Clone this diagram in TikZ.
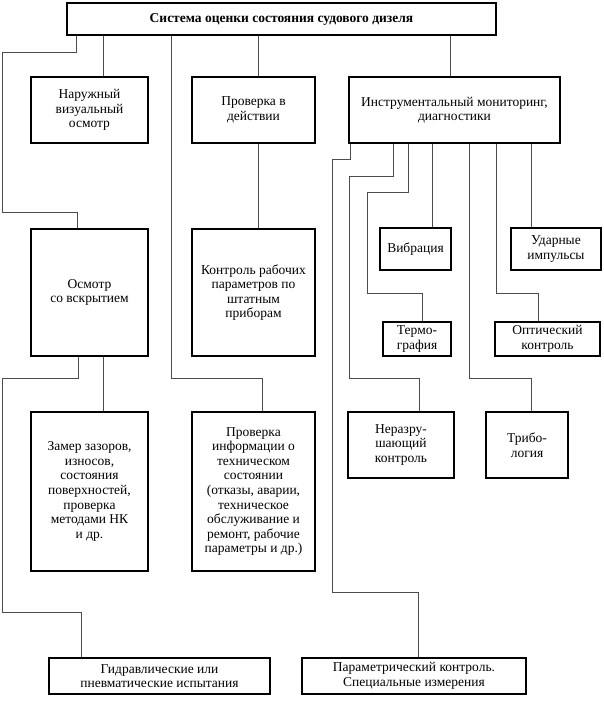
\documentclass[tikz,border=0pt]{standalone}
\usepackage{fontspec}
\setmainfont{Liberation Serif}
\begin{document}
\begin{tikzpicture}[x=1pt,y=-1pt,
  blk/.style={draw,line width=1.5pt,align=center,inner sep=1pt,font=\fontsize{13.5}{14.6}\selectfont},
  link/.style={draw=black!70,line width=0.9pt}]
\useasboundingbox (0,0) rectangle (603,710);
\def\bx#1#2#3#4#5#6{\node[blk,minimum width={#4-#2},minimum height={#5-#3}] (#1) at ({(#2+#4)/2},{(#3+#5)/2}) {#6};}
% boxes
\bx{top}{67}{3}{496}{35}{\bfseries Система оценки состояния судового дизеля}
\bx{nar}{31}{77}{148}{143}{Наружный\\визуальный\\осмотр}
\bx{prov}{192}{77}{315}{143}{Проверка в\\действии}
\bx{instr}{349}{77}{560}{143}{Инструментальный мониторинг,\\диагностики}
\bx{osm}{31}{229}{148}{356}{Осмотр\\со вскрытием}
\bx{kontr}{192}{229}{315}{356}{Контроль рабочих\\параметров по\\штатным\\приборам}
\bx{zamer}{31}{412}{148}{571}{Замер зазоров,\\износов,\\состояния\\поверхностей,\\проверка\\методами НК\\и др.}
\bx{info}{192}{412}{315}{571}{Проверка\\информации о\\техническом\\состоянии\\(отказы, аварии,\\техническое\\обслуживание и\\ремонт, рабочие\\параметры и др.)}
\bx{vibr}{380}{228}{451}{270}{Вибрация}
\bx{udar}{511}{228}{601}{270}{Ударные\\импульсы}
\bx{termo}{383}{322}{451}{356}{Термо-\\графия}
\bx{opt}{495}{322}{600}{356}{Оптический\\контроль}
\bx{nerazr}{348}{412}{454}{478}{Неразру-\\шающий\\контроль}
\bx{trib}{486}{412}{568}{478}{Трибо-\\логия}
\bx{gidr}{49}{658}{270}{694}{Гидравлические или\\пневматические испытания}
\bx{param}{302}{658}{526}{694}{Параметрический контроль.\\Специальные измерения}
% connectors
\draw[link] (top.south -| 76,0) -- (76,52) -- (2,52) -- (2,212) -- (77,212) -- (osm.north -| 77,0);
\draw[link] (top.south -| 103,0) -- (nar.north -| 103,0);
\draw[link] (top.south -| 171,0) -- (171,378) -- (262,378) -- (info.north -| 262,0);
\draw[link] (top.south -| 258,0) -- (prov.north -| 258,0);
\draw[link] (top.south -| 450,0) -- (instr.north -| 450,0);
\draw[link] (prov.south -| 258,0) -- (kontr.north -| 258,0);
\draw[link] (osm.south -| 78,0) -- (78,378) -- (2,378) -- (2,612) -- (81,612) -- (gidr.north -| 81,0);
\draw[link] (osm.south -| 103,0) -- (zamer.north -| 103,0);
\draw[link] (instr.south -| 350,0) -- (350,159) -- (332,159) -- (332,592) -- (418,592) -- (param.north -| 418,0);
\draw[link] (instr.south -| 393,0) -- (393,176) -- (349,176) -- (349,378) -- (419,378) -- (nerazr.north -| 419,0);
\draw[link] (instr.south -| 408,0) -- (408,192) -- (367,192) -- (367,293) -- (422,293) -- (termo.north -| 422,0);
\draw[link] (instr.south -| 432,0) -- (vibr.north -| 432,0);
\draw[link] (instr.south -| 469,0) -- (469,378) -- (531,378) -- (trib.north -| 531,0);
\draw[link] (instr.south -| 496,0) -- (496,293) -- (538,293) -- (opt.north -| 538,0);
\draw[link] (instr.south -| 531,0) -- (udar.north -| 531,0);
\end{tikzpicture}
\end{document}
